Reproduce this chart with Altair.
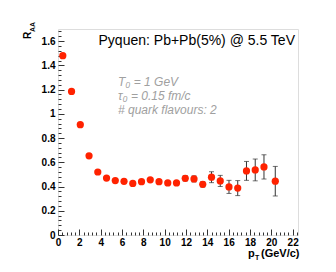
import altair as alt
import pandas as pd

# ---- data ----
pt = [0.45, 1.27, 2.09, 2.91, 3.73, 4.55, 5.37, 6.19, 7.01, 7.83, 8.65, 9.47,
      10.29, 11.11, 11.93, 12.75, 13.57, 14.39, 15.21, 16.03, 16.85, 17.67,
      18.49, 19.31, 20.37]
raa = [1.48, 1.185, 0.91, 0.653, 0.52, 0.47, 0.449, 0.443, 0.426, 0.44, 0.455,
       0.44, 0.43, 0.43, 0.468, 0.463, 0.418, 0.477, 0.446, 0.397, 0.387,
       0.529, 0.537, 0.562, 0.444]
err = [0.005, 0.005, 0.005, 0.005, 0.005, 0.005, 0.006, 0.007, 0.008, 0.009,
       0.01, 0.011, 0.013, 0.015, 0.022, 0.025, 0.022, 0.045, 0.046, 0.054,
       0.062, 0.078, 0.09, 0.1, 0.122]

x_labels = [0, 2, 4, 6, 8, 10, 12, 14, 16, 18, 20, 22]
y_labels = [0, 0.2, 0.4, 0.6, 0.8, 1, 1.2, 1.4, 1.6]
x_ticks = [round(i * 0.4, 2) for i in range(57)]
y_ticks = [round(i * 0.04, 2) for i in range(43)]

title_text = "Pyquen: Pb+Pb(5%) @ 5.5 TeV"
info_lines = ["T\u2080 = 1 GeV", "\u03c4\u2080 = 0.15 fm/c", "# quark flavours: 2"]

df = pd.DataFrame({
    "pt": pt,
    "raa": raa,
    "lo": [r - e for r, e in zip(raa, err)],
    "hi": [r + e for r, e in zip(raa, err)],
})

W, H = 240, 206
FONT = "Liberation Sans"
xs = alt.Scale(domain=[0, 22.5], nice=False, zero=False)
ys = alt.Scale(domain=[0, 1.7], nice=False, zero=False)

x_lab_axis = alt.Axis(orient="bottom", values=x_labels, ticks=False, domain=False,
                      grid=False, labelFont=FONT, labelFontWeight="bold",
                      labelFontSize=10, labelPadding=2, labelColor="black",
                      title=None, format="~g", labelFlush=False, labelOverlap=False)
y_lab_axis = alt.Axis(orient="left", values=y_labels, ticks=False, domain=False,
                      grid=False, labelFont=FONT, labelFontWeight="bold",
                      labelFontSize=10, labelPadding=3, labelColor="black",
                      title=None, format="~g", labelFlush=False, labelOverlap=False)
x_tick_axis = alt.Axis(orient="top", offset=-H, values=x_ticks, labels=False,
                       domain=False, grid=False, tickColor="#333", tickWidth=1,
                       tickSize={"condition": {"test": "abs(datum.value/2 - round(datum.value/2)) < 0.001",
                                               "value": 6}, "value": 3},
                       title=None)
y_tick_axis = alt.Axis(orient="right", offset=-W, values=y_ticks, labels=False,
                       domain=False, grid=False, tickColor="#333", tickWidth=1,
                       tickSize={"condition": {"test": "abs(datum.value*5 - round(datum.value*5)) < 0.001",
                                               "value": 6}, "value": 3},
                       title=None)

base = alt.Chart(df)

bars = base.mark_rule(color="#333", strokeWidth=1).encode(
    x=alt.X("pt:Q", scale=xs, axis=x_tick_axis),
    y=alt.Y("lo:Q", scale=ys, axis=y_tick_axis),
    y2="hi:Q",
)
cap_hi = base.mark_tick(color="#333", orient="horizontal", size=5, thickness=1).encode(
    x=alt.X("pt:Q", scale=xs, axis=None),
    y=alt.Y("hi:Q", scale=ys, axis=None),
)
cap_lo = base.mark_tick(color="#333", orient="horizontal", size=5, thickness=1).encode(
    x=alt.X("pt:Q", scale=xs, axis=None),
    y=alt.Y("lo:Q", scale=ys, axis=None),
)
points = base.mark_circle(color="#ff2200", size=52, opacity=1).encode(
    x=alt.X("pt:Q", scale=xs, axis=x_lab_axis),
    y=alt.Y("raa:Q", scale=ys, axis=y_lab_axis),
)


def label(text, **kw):
    return alt.Chart(pd.DataFrame({"t": [text]})).mark_text(
        font=FONT, baseline="alphabetic", **kw).encode(text="t:N")


title = label(title_text, fontSize=14, color="black", align="right", x=237, y=16)

info_layers = [
    label(line, fontSize=12, fontStyle="italic", color="#a0a0a0", align="left",
          x=60, y=57 + 14 * i)
    for i, line in enumerate(info_lines)
]

ytitle_r = label("R", fontSize=10, fontWeight="bold", color="black", angle=270,
                 align="left", x=-27, y=10)
ytitle_aa = label("AA", fontSize=7, fontWeight="bold", color="black", angle=270,
                  align="left", x=-23, y=3)
xtitle_p = label("p", fontSize=11, fontWeight="bold", color="black",
                 align="left", x=190, y=228)
xtitle_t = label("T", fontSize=7, fontWeight="bold", color="black",
                 align="left", x=197, y=231)
xtitle_u = label("(GeV/c)", fontSize=11, fontWeight="bold", color="black",
                 align="left", x=203, y=228)

chart = alt.layer(
    bars, cap_hi, cap_lo, points, title, *info_layers,
    ytitle_r, ytitle_aa, xtitle_p, xtitle_t, xtitle_u,
).resolve_axis(x="independent", y="independent").properties(
    width=W, height=H,
    autosize=alt.AutoSizeParams(type="none"),
    padding={"left": 50, "top": 21, "right": 30, "bottom": 29},
).configure_view(stroke="#666", strokeWidth=1).configure(background="white")

chart.save("out.html", embed_options={"renderer": "svg", "actions": False})
